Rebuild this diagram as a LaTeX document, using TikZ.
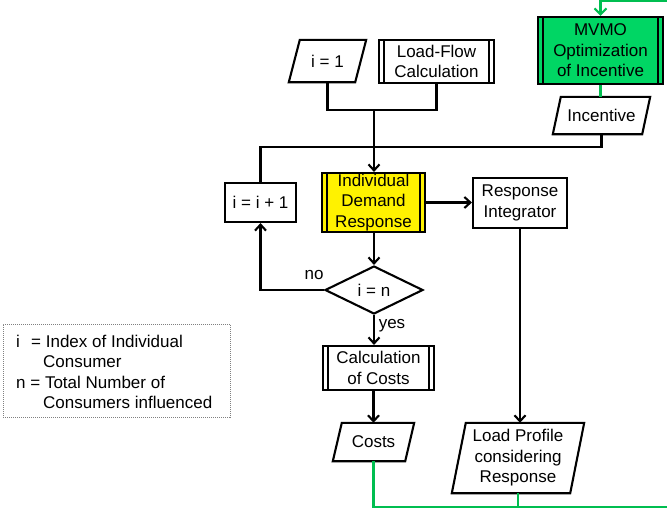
\documentclass[tikz,border=0pt]{standalone}
\usepackage{fontspec}
\setmainfont{Liberation Sans}
\usetikzlibrary{arrows.meta,shapes.geometric,calc}
\definecolor{mvmogreen}{RGB}{0,214,100}
\definecolor{linegreen}{RGB}{0,190,80}
\newcommand\drawpara[2]{\draw[line width=2.1pt] ($(#1.north west)+(#2,0)$) -- (#1.north east) -- ($(#1.south east)-(#2,0)$) -- (#1.south west) -- cycle;}
\begin{document}
\begin{tikzpicture}[x=1pt,y=-1pt,
  every node/.style={font=\fontsize{17}{20.5}\selectfont, inner sep=0pt, align=center},
  conn/.style={line width=2.1pt},
  arr/.style={conn, -{Straight Barb[length=6pt,width=11pt]}},
  gconn/.style={conn, draw=linegreen},
  garr/.style={gconn, -{Straight Barb[length=6pt,width=12pt]}},
  plainbox/.style={draw, rectangle, line width=2.1pt},
  procbox/.style={plainbox, path picture={
      \draw[line width=2.1pt,black] ([xshift=5pt]path picture bounding box.north west) -- ([xshift=5pt]path picture bounding box.south west);
      \draw[line width=2.1pt,black] ([xshift=-5pt]path picture bounding box.north east) -- ([xshift=-5pt]path picture bounding box.south east);}},
  paranode/.style={rectangle, inner sep=0pt}
]
\useasboundingbox (0,0) rectangle (667,509);

\node[paranode, minimum width=77pt, minimum height=42pt] (i1) at (327.5,61) {i = 1};
\drawpara{i1}{11}
\node[procbox, minimum width=115pt, minimum height=43pt] (lf) at (436.5,61.5) {Load-Flow\\Calculation};
\node[procbox, fill=mvmogreen, minimum width=125pt, minimum height=67pt] (mvmo) at (600.5,50.5) {MVMO\\Optimization\\of Incentive};
\node[paranode, minimum width=97pt, minimum height=37pt] (inc) at (601.5,115.5) {Incentive};
\drawpara{inc}{8}
\node[procbox, fill=yellow, minimum width=103pt, minimum height=59pt] (idr) at (373.5,202.5) {Individual\\Demand\\Response};
\node[plainbox, minimum width=71pt, minimum height=39pt] (ii) at (260.5,202.5) {i = i + 1};
\node[plainbox, minimum width=94pt, minimum height=50pt] (ri) at (520,203) {Response\\Integrator};
\node[draw, diamond, line width=2.1pt, minimum width=98pt, minimum height=48pt, aspect=2] (dia) at (374,290) {i = n};
\node[procbox, minimum width=111pt, minimum height=44pt] (cc) at (378.5,368) {Calculation\\of Costs};
\node[paranode, minimum width=81pt, minimum height=38pt] (costs) at (373.5,442) {Costs};
\drawpara{costs}{9}
\node[paranode, minimum width=132pt, minimum height=70pt] (lp) at (518,458) {Load Profile\\considering\\Response};
\drawpara{lp}{14}

\node (nolbl) at (314,275) {no};
\node (yeslbl) at (392,326) {yes};

\node[draw=gray, dash pattern=on 1pt off 1pt, line width=0.8pt, minimum width=227pt, minimum height=93pt] (legend) at (116.5,370.5) {};
\node[anchor=base west] (leg1) at (16,347) {\makebox[15pt][l]{i}= Index of Individual};
\node[anchor=base west] (leg2) at (43,367.5) {Consumer};
\node[anchor=base west] (leg3) at (16,388) {n = Total Number of};
\node[anchor=base west] (leg4) at (43,408.5) {Consumers influenced};

\coordinate (j1) at (374,110);
\draw[conn] (i1.south) |- (j1) -| (lf.south);
\draw[arr] (j1) -- (j1 |- idr.north);
\coordinate (j2) at (260.5,147);
\draw[conn] (inc.south) |- (j2) -- (ii.north);
\draw[arr] (idr.east) -- (idr.east -| ri.west);
\draw[arr] (ri.south) -- (ri.south |- lp.north);
\draw[arr] (idr.south -| dia.north) -- (dia.north);
\draw[arr] (dia.west) -| (ii.south);
\draw[arr] (dia.south) -- (dia.south |- cc.north);
\draw[arr] (cc.south -| costs.north) -- (costs.north);

\coordinate (g1) at (672,507);
\coordinate (g2) at (672,1);
\draw[garr] (costs.south) |- (g1) -- (g2) -| (mvmo.north);
\draw[gconn] (lp.south) -- (lp.south |- g1);
\draw[gconn] (mvmo.south) -- (mvmo.south |- inc.north);
\end{tikzpicture}
\end{document}
